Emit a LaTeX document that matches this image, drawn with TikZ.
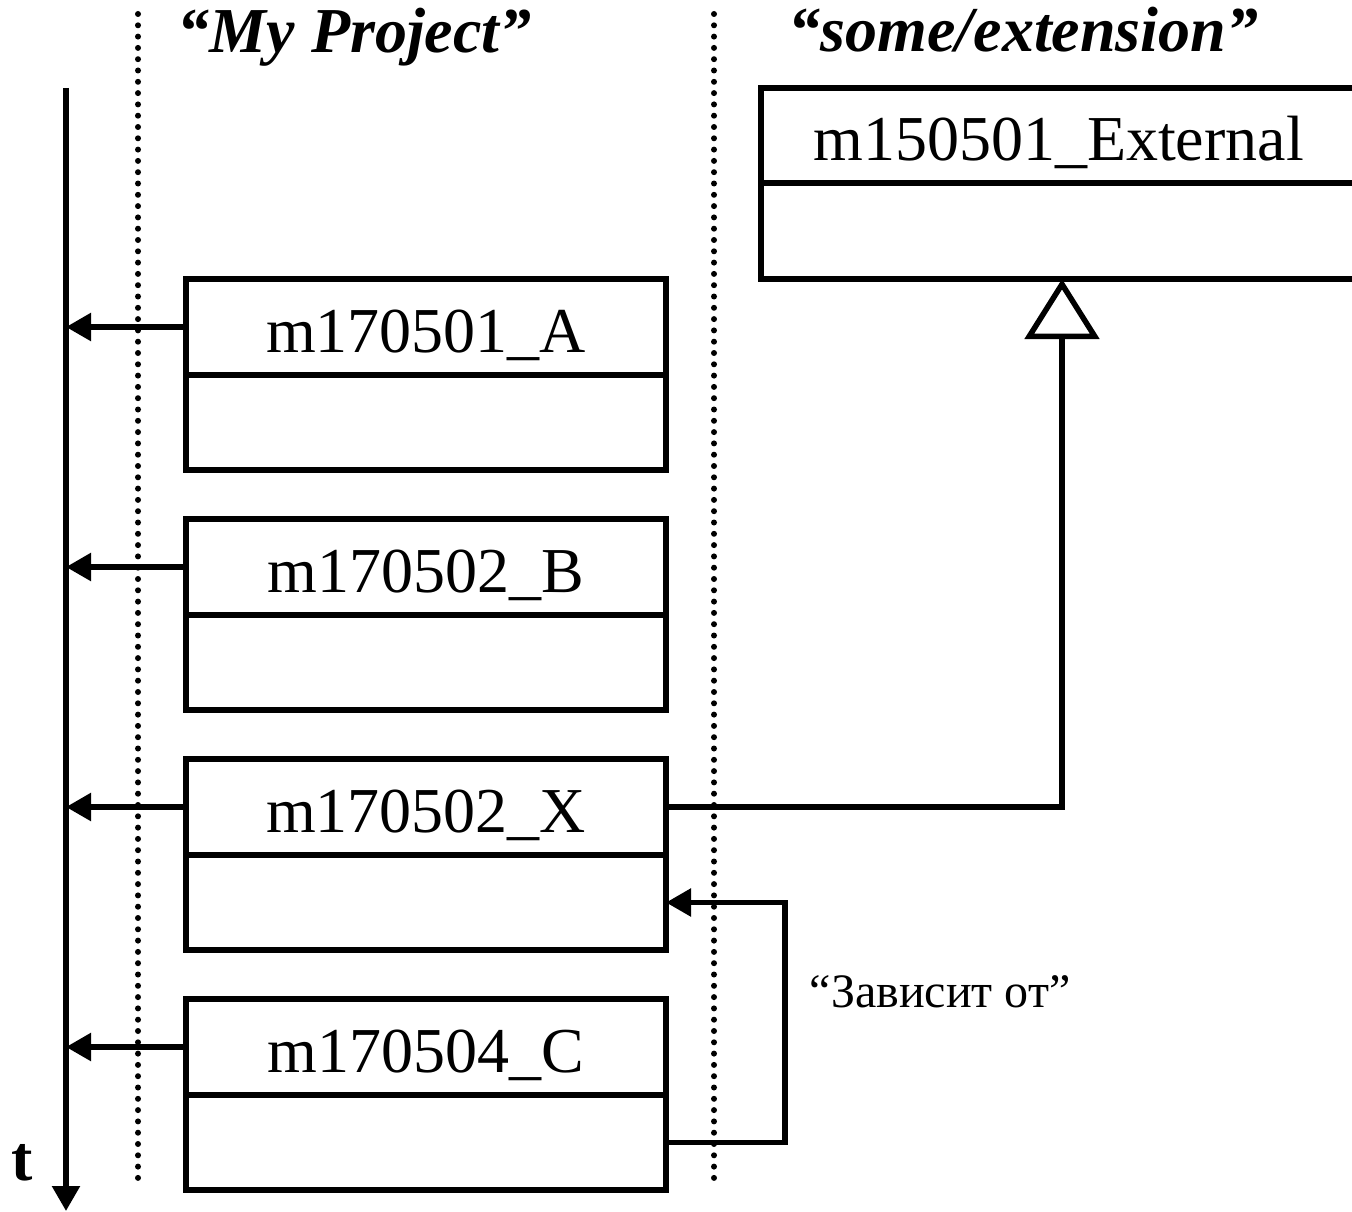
\documentclass[tikz,border=0pt]{standalone}
\usepackage{fontspec}
\setmainfont{Liberation Serif}
\usetikzlibrary{arrows.meta}
\begin{document}
\begin{tikzpicture}[x=1pt,y=-1pt,line width=5.5pt,
  namebox/.style={draw,line width=5.5pt,rectangle,inner sep=0pt,outer sep=0pt,minimum width=480pt,minimum height=96pt,text height=60pt,text depth=10pt,font=\fontsize{64}{76}\selectfont},
  bodybox/.style={draw,line width=5.5pt,rectangle,inner sep=0pt,outer sep=0pt,minimum width=480pt,minimum height=95pt},
  extname/.style={namebox,minimum width=595pt,minimum height=95pt},
  extbody/.style={bodybox,minimum width=595pt,minimum height=96pt},
  arr/.style={-{Triangle[length=25pt,width=27pt]}},
  inh/.style={-{Triangle[open,length=60pt,width=74pt]}},
  sep/.style={line width=6pt,line cap=round,dash pattern=on 0pt off 11.3pt},
  title/.style={font=\bfseries\itshape\fontsize{64}{74}\selectfont,anchor=base west,inner sep=0pt},
  lbl/.style={font=\fontsize{48}{58}\selectfont,anchor=base west,inner sep=0pt}]
\useasboundingbox (0,0) rectangle (1352,1212);
\clip (0,0) rectangle (1352,1212);

% separators
\coordinate (s1t) at (138,14);
\coordinate (s1b) at (138,1187);
\coordinate (s2t) at (714,14);
\coordinate (s2b) at (714,1187);
\draw[sep] (s1t) -- (s1b);
\draw[sep] (s2t) -- (s2b);

% titles
\node[title] (tp) at (175,53) {“My Project”};
\node[title] (te) at (786,52) {“some/extension”};

% time axis
\coordinate (axtop) at (66,88);
\coordinate (axbot) at (66,1211);
\draw[arr] (axtop) -- (axbot);
\node[font=\bfseries\fontsize{64}{70}\selectfont,anchor=base west,inner sep=0pt] (t) at (9,1180) {t};

% classes
\node[namebox] (A) at (426,327) {m170501\_A};
\node[bodybox,anchor=north] (Ab) at (A.south) {};
\node[namebox] (B) at (426,567) {m170502\_B};
\node[bodybox,anchor=north] (Bb) at (B.south) {};
\node[namebox] (X) at (426,807) {m170502\_X};
\node[bodybox,anchor=north] (Xb) at (X.south) {};
\node[namebox] (C) at (426,1047) {m170504\_C};
\node[bodybox,anchor=north] (Cb) at (C.south) {};

\node[extname] (E) at (1058.5,135.5) {m150501\_External};
\node[extbody,anchor=north] (Eb) at (E.south) {};

% arrows to time axis
\draw[arr] (A.west) -- (A.west -| axtop);
\draw[arr] (B.west) -- (B.west -| axtop);
\draw[arr] (X.west) -- (X.west -| axtop);
\draw[arr] (C.west) -- (C.west -| axtop);

% inheritance
\coordinate (ih) at (1062,807);
\draw[inh] (X.east) -- (ih) -- (ih |- Eb.south);

% dependency
\coordinate (dp) at (785,1142.5);
\draw[arr] (Cb.east) -- (Cb.east -| dp) |- (Xb.east);
\node[lbl] (dl) at (807,1007) {“Зависит от”};
\end{tikzpicture}
\end{document}
